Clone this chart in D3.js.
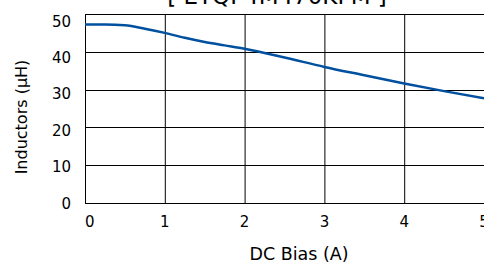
<!DOCTYPE html>
<html>
<head>
<meta charset="utf-8">
<script src="https://cdn.jsdelivr.net/npm/d3@7"></script>
<style>
  body { margin: 0; background: #fff; }
  svg { display: block; font-family: "DejaVu Sans", Verdana, sans-serif; }
</style>
</head>
<body>
<div id="chart"></div>
<script>
// chart values
const title = "[ ETQP4M470KFM ]";
const biasA = [0, 0.25, 0.5, 0.75, 1, 1.25, 1.5, 1.75, 2, 2.5, 3, 3.5, 4, 4.5, 5];
const inductance = [47.2, 47.2, 47.0, 46.1, 45.0, 43.7, 42.6, 41.7, 40.8, 38.5, 36.0, 33.8, 31.6, 29.6, 27.7];
const xTicks = [0, 1, 2, 3, 4, 5];
const yTicks = [0, 10, 20, 30, 40, 50];

const W = 484, H = 264;
const margin = { top: 14, right: 0, bottom: 61, left: 85 };

const svg = d3.select('#chart').append('svg')
    .attr('width', W)
    .attr('height', H);

const x = d3.scaleLinear().domain([0, 5]).range([margin.left, W - margin.right]);
const y = d3.scaleLinear().domain([0, 50]).range([H - margin.bottom, margin.top]);
// tick labels sit on a slightly tighter spacing than the grid
const yLab = d3.scaleLinear().domain([0, 50]).range([H - margin.bottom, 21]);

// grid
svg.append('g')
    .selectAll('line')
    .data(yTicks)
    .enter().append('line')
    .attr('x1', x(0)).attr('x2', x(5))
    .attr('y1', d => Math.round(y(d)) + 0.5)
    .attr('y2', d => Math.round(y(d)) + 0.5)
    .attr('stroke', '#000');

svg.append('g')
    .selectAll('line')
    .data(xTicks)
    .enter().append('line')
    .attr('x1', d => x(d) + 0.5)
    .attr('x2', d => x(d) + 0.5)
    .attr('y1', y(50)).attr('y2', y(0))
    .attr('stroke', '#000');

// tick labels
svg.append('g')
    .selectAll('text')
    .data(yTicks)
    .enter().append('text')
    .attr('x', 71)
    .attr('y', d => yLab(d) + 5.5)
    .attr('text-anchor', 'end')
    .attr('font-size', 15)
    .attr('fill', '#000')
    .text(d => d);

svg.append('g')
    .selectAll('text')
    .data(xTicks)
    .enter().append('text')
    .attr('x', d => x(d))
    .attr('y', y(0) + 24)
    .attr('text-anchor', d => d === 0 ? 'start' : 'middle')
    .attr('font-size', 15)
    .attr('fill', '#000')
    .text(d => d);

// axis titles
svg.append('text')
    .attr('x', 299)
    .attr('y', y(0) + 57)
    .attr('text-anchor', 'middle')
    .attr('font-size', 17.5)
    .text('DC Bias (A)');

svg.append('text')
    .attr('transform', `translate(27,117) rotate(-90)`)
    .attr('text-anchor', 'middle')
    .attr('font-size', 16)
    .text('Inductors (µH)');

svg.append('text')
    .attr('x', 277)
    .attr('y', 4)
    .attr('text-anchor', 'middle')
    .attr('font-size', 23)
    .text(title);

// curve
const line = d3.line()
    .x((d, i) => x(biasA[i]))
    .y(d => y(d))
    .curve(d3.curveMonotoneX);

svg.append('path')
    .datum(inductance)
    .attr('d', line)
    .attr('fill', 'none')
    .attr('stroke', '#0050a0')
    .attr('stroke-width', 2.5);
</script>
</body>
</html>
